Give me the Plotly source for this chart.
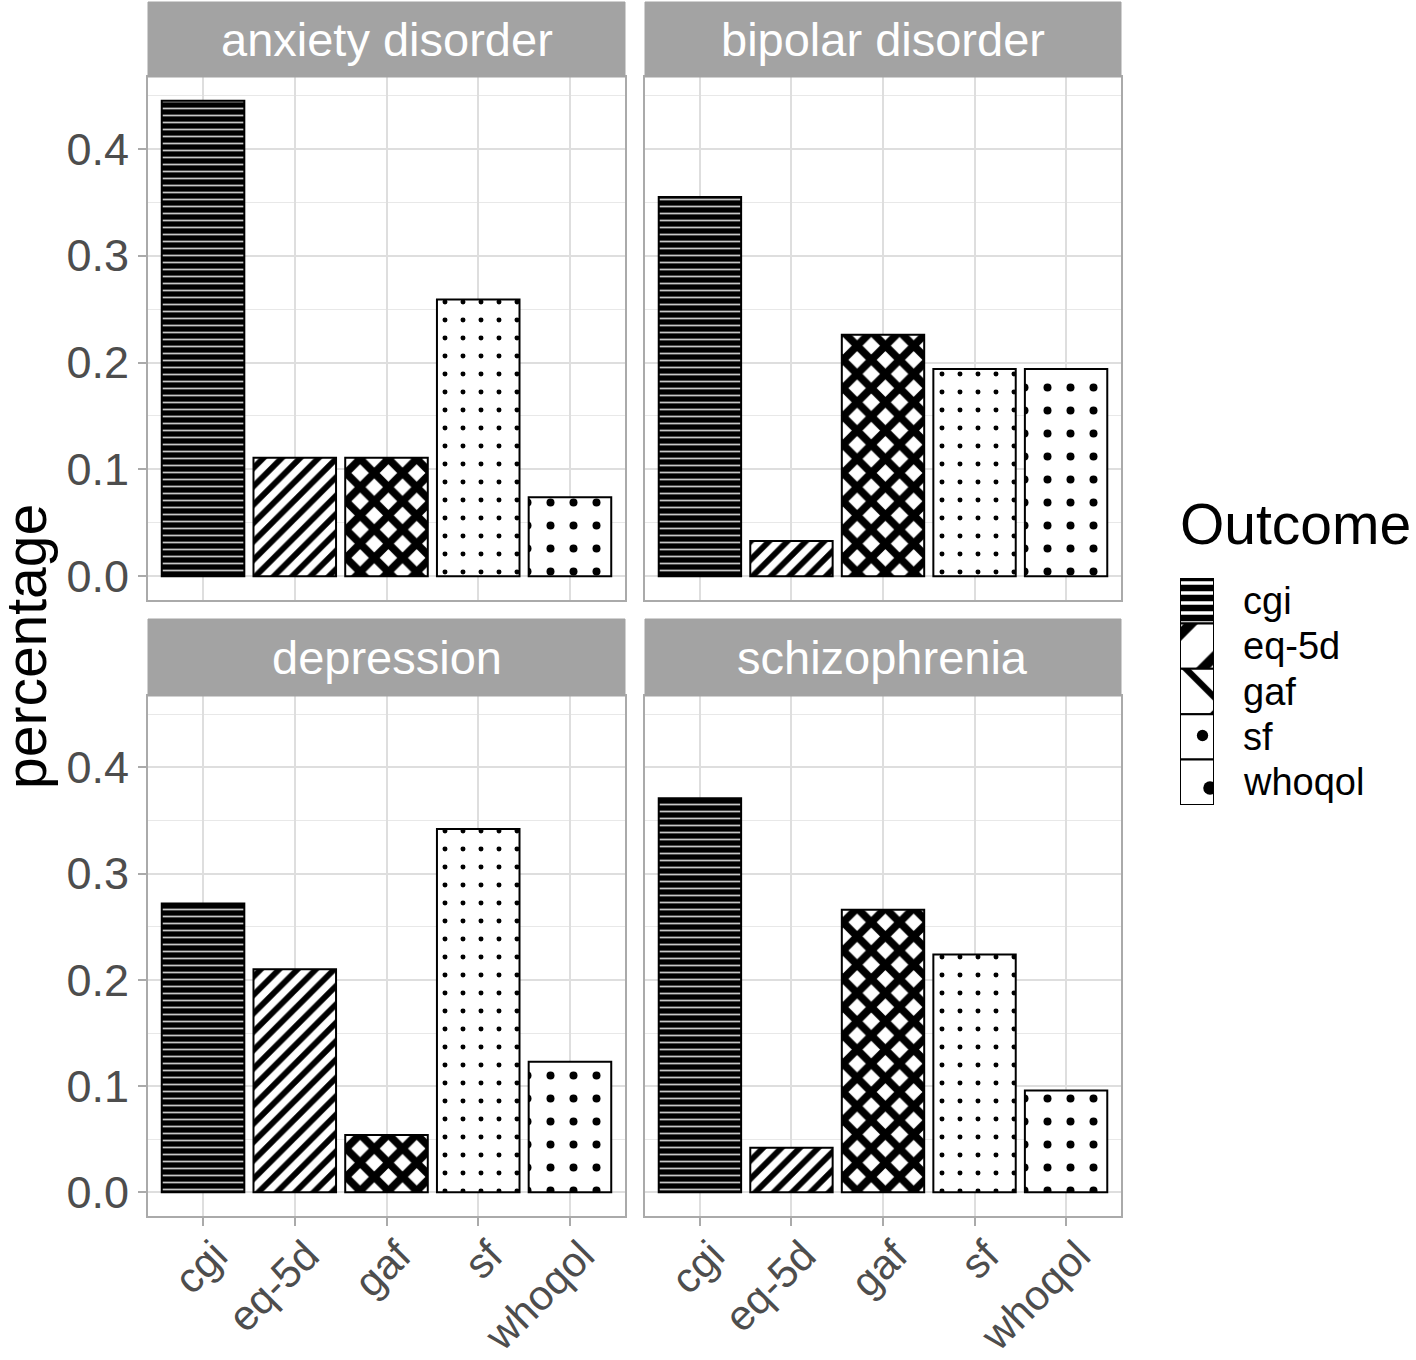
import plotly.graph_objects as go

outcomes = ["cgi", "eq-5d", "gaf", "sf", "whoqol"]
panels = ["anxiety disorder", "bipolar disorder", "depression", "schizophrenia"]
anxiety = [0.445, 0.111, 0.111, 0.259, 0.074]
bipolar = [0.355, 0.033, 0.226, 0.194, 0.194]
depression = [0.272, 0.210, 0.054, 0.342, 0.123]
schizophrenia = [0.371, 0.042, 0.266, 0.224, 0.096]
values = [anxiety, bipolar, depression, schizophrenia]
y_ticks = [0.0, 0.1, 0.2, 0.3, 0.4]
y_ticktext = ["0.0", "0.1", "0.2", "0.3", "0.4"]

# pattern styles per outcome: (shape, fg, bg, size, solidity)
styles = {
    "cgi": ("-", "#c8c8c8", "black", 7, 0.25),
    "eq-5d": ("/", "black", "white", 13, 0.45),
    "gaf": ("x", "black", "white", 20, 0.62),
    "sf": (".", "black", "white", 18, 0.06),
    "whoqol": (".", "black", "white", 23, 0.095),
}
legend_styles = {
    "cgi": ("-", "white", "black", 10, 0.35),
    "eq-5d": ("/", "black", "white", 40, 0.25),
    "gaf": ("x", "black", "white", 60, 0.2),
    "sf": (".", "black", "white", 45, 0.05),
    "whoqol": (".", "black", "white", 60, 0.04),
}

FONT = "Liberation Sans, Arial, sans-serif"
W, H = 1416, 1360

def fx(px):
    return px / W

def fy(py):
    return (H - py) / H

x_domains = [[fx(148), fx(625)], [fx(645), fx(1121)]]
y_domains = [[fy(600), fy(77)], [fy(1216), fy(696)]]
strip_y = [[fy(77), fy(2)], [fy(696), fy(619)]]

ymax = max(max(v) for v in values)
yrange = [-0.05 * ymax, ymax * 1.05]

fig = go.Figure()
layout = {}
shapes = []
annotations = []
for i, (pname, vals) in enumerate(zip(panels, values)):
    r, c = divmod(i, 2)
    idx = i + 1
    xa = "x" if idx == 1 else f"x{idx}"
    ya = "y" if idx == 1 else f"y{idx}"
    for o, v in zip(outcomes, vals):
        shp, fg, bg, sz, sol = styles[o]
        fig.add_trace(go.Bar(
            x=[o], y=[v], name=o, xaxis=xa, yaxis=ya, width=0.9,
            showlegend=False,
            marker=dict(color=bg, line=dict(color="black", width=2),
                        pattern=dict(shape=shp, fgcolor=fg, bgcolor=bg,
                                     size=sz, solidity=sol, fillmode="replace")),
        ))
    xkey = "xaxis" if idx == 1 else f"xaxis{idx}"
    ykey = "yaxis" if idx == 1 else f"yaxis{idx}"
    layout[xkey] = dict(
        domain=x_domains[c], anchor=ya, type="category",
        categoryorder="array", categoryarray=outcomes, range=[-0.6, 4.6],
        showgrid=True, gridcolor="#dedede", gridwidth=1.5,
        showline=True, mirror=True, linecolor="#aaaaaa", linewidth=2,
        ticks="outside" if r == 1 else "", ticklen=8, tickcolor="#aaaaaa", tickwidth=2,
        showticklabels=(r == 1), tickangle=-45, automargin=False,
        ticklabelshift=12, ticklabelstandoff=-12,
        tickfont=dict(family=FONT, size=42, color="#4d4d4d"),
        zeroline=False,
    )
    layout[ykey] = dict(
        domain=y_domains[r], anchor=xa, range=yrange,
        tickvals=y_ticks, ticktext=y_ticktext,
        showgrid=True, gridcolor="#dedede", gridwidth=1.5,
        minor=dict(tickvals=[0.05, 0.15, 0.25, 0.35, 0.45], showgrid=True,
                   gridcolor="#e8e8e8", gridwidth=1, ticks=""),
        showline=True, mirror=True, linecolor="#aaaaaa", linewidth=2,
        ticks="outside" if c == 0 else "", ticklen=8, tickcolor="#aaaaaa", tickwidth=2,
        showticklabels=(c == 0), automargin=False,
        tickfont=dict(family=FONT, size=45, color="#4d4d4d"),
        zeroline=False,
    )
    shapes.append(dict(type="rect", xref="paper", yref="paper",
                       x0=x_domains[c][0], x1=x_domains[c][1],
                       y0=strip_y[r][0], y1=strip_y[r][1],
                       fillcolor="#a3a3a3", line=dict(color="#a3a3a3", width=1)))
    annotations.append(dict(text=pname, xref="paper", yref="paper",
                            x=(x_domains[c][0] + x_domains[c][1]) / 2,
                            y=(strip_y[r][0] + strip_y[r][1]) / 2,
                            showarrow=False, xanchor="center", yanchor="middle",
                            font=dict(family=FONT, size=47, color="white")))

# Legend drawn as a stacked key column (ggplot-like) on its own small axis
n = len(outcomes)
for k, o in enumerate(outcomes):
    shp, fg, bg, sz, sol = legend_styles[o]
    fig.add_trace(go.Bar(
        x=[0], y=[1], base=[n - 1 - k], name=o, xaxis="x5", yaxis="y5", width=1,
        showlegend=False, hoverinfo="skip",
        marker=dict(color=bg, line=dict(color="black", width=2),
                    pattern=dict(shape=shp, fgcolor=fg, bgcolor=bg,
                                 size=sz, solidity=sol, fillmode="replace")),
    ))
    annotations.append(dict(text=o, xref="paper", yref="y5", x=fx(1241),
                            y=n - 1 - k + 0.5, showarrow=False,
                            xanchor="left", yanchor="middle",
                            font=dict(family=FONT, size=38, color="black")))
layout["xaxis5"] = dict(domain=[fx(1180), fx(1214)], anchor="y5", range=[-0.5, 0.5],
                        visible=False, fixedrange=True)
layout["yaxis5"] = dict(domain=[fy(805), fy(578)], anchor="x5", range=[0, n],
                        visible=False, fixedrange=True)

annotations.append(dict(text="Outcome", xref="paper", yref="paper",
                        x=fx(1178), y=fy(524), showarrow=False,
                        xanchor="left", yanchor="middle",
                        font=dict(family=FONT, size=57, color="black")))

annotations.append(dict(text="percentage", xref="paper", yref="paper",
                        x=fx(26), y=fy(647), textangle=-90, showarrow=False,
                        xanchor="center", yanchor="middle",
                        font=dict(family=FONT, size=57, color="black")))

fig.update_layout(
    width=W, height=H,
    margin=dict(l=0, r=0, t=0, b=0),
    paper_bgcolor="white", plot_bgcolor="white",
    barmode="overlay",
    showlegend=False,
    shapes=shapes, annotations=annotations,
    **layout,
)

fig.write_html("out.html", config={"displayModeBar": False},
               post_script="document.body.style.margin='0px';")
